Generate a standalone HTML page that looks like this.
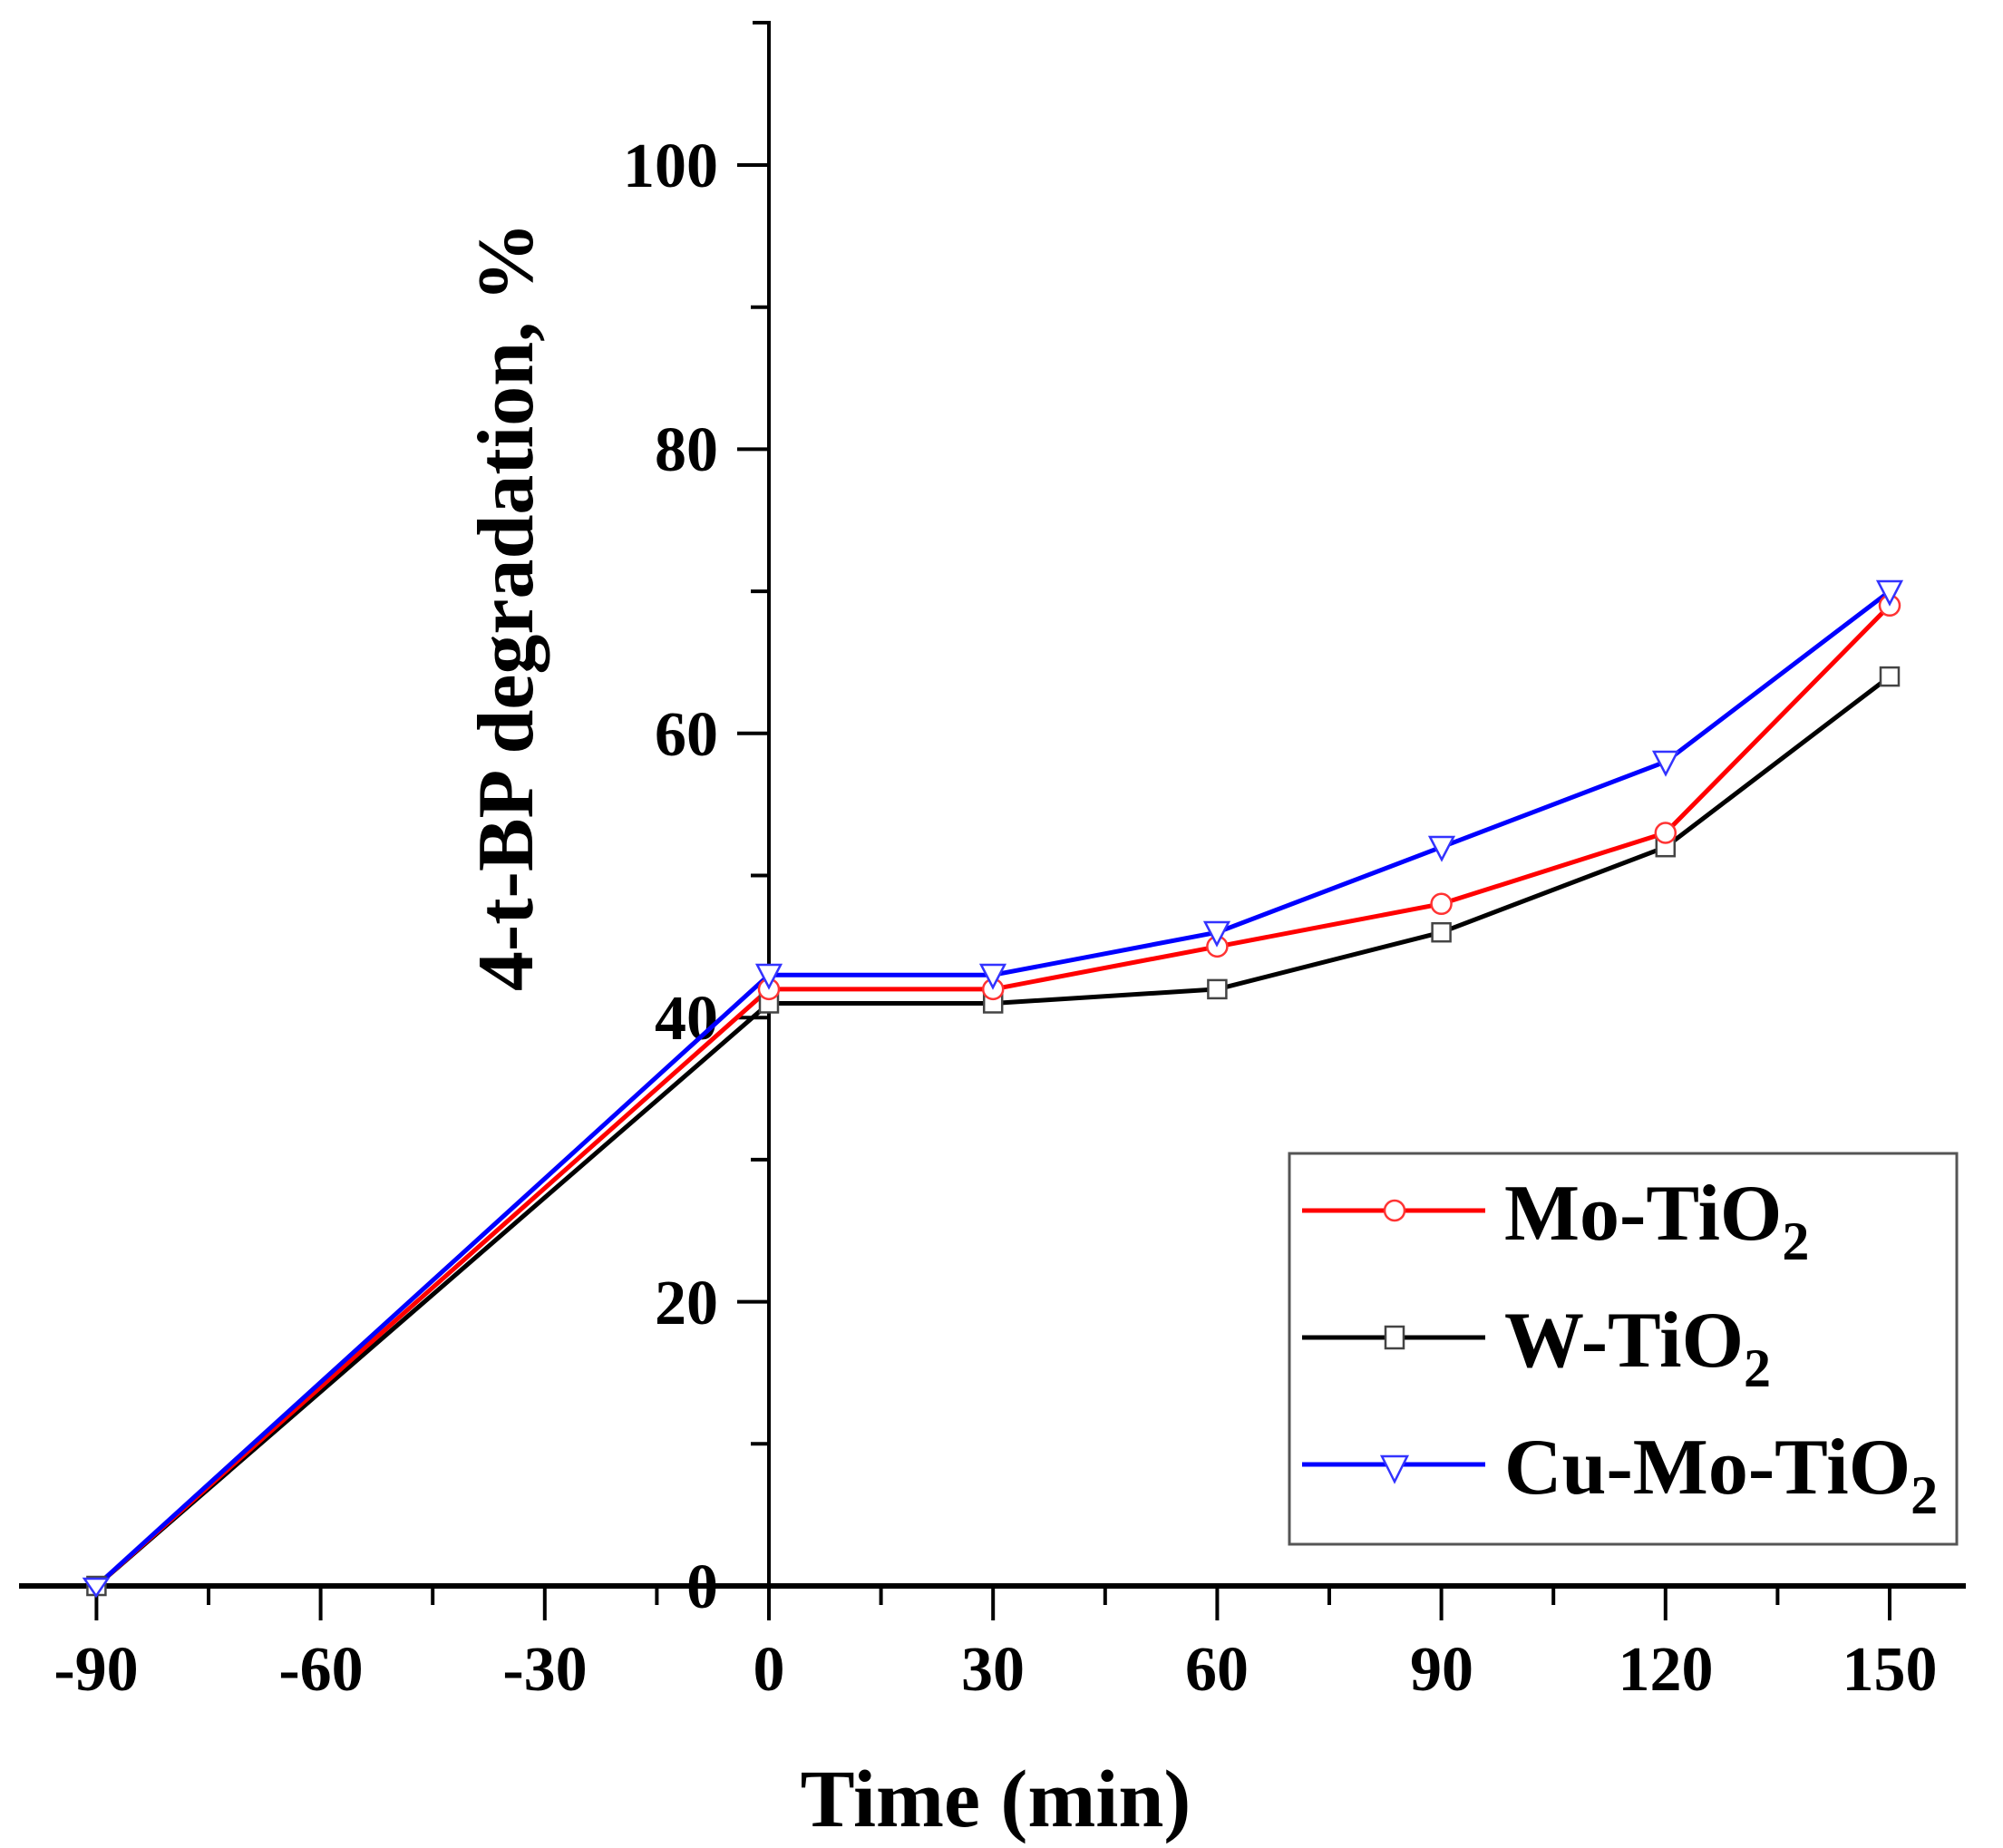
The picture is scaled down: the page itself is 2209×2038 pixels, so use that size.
<!DOCTYPE html>
<html><head><meta charset="utf-8"><style>
html,body{margin:0;padding:0;background:#fff;}
svg{display:block;}
text{font-family:"Liberation Serif",serif;font-weight:bold;fill:#000;}
</style></head><body>
<svg width="2209" height="2038" viewBox="0 0 2209 2038" xmlns="http://www.w3.org/2000/svg">
<rect width="2209" height="2038" fill="#fff"/>
<!-- axes -->
<line x1="21" y1="1749" x2="2168" y2="1749" stroke="#000" stroke-width="6"/>
<line x1="848" y1="25" x2="848" y2="1749" stroke="#000" stroke-width="4"/>
<line x1="830" y1="25" x2="850" y2="25" stroke="#000" stroke-width="4"/>
<!-- y ticks -->
<g stroke="#000" stroke-width="4">
<line x1="813" y1="182" x2="848" y2="182"/>
<line x1="813" y1="495.4" x2="848" y2="495.4"/>
<line x1="813" y1="808.8" x2="848" y2="808.8"/>
<line x1="813" y1="1122.2" x2="848" y2="1122.2"/>
<line x1="813" y1="1435.6" x2="848" y2="1435.6"/>
<line x1="828" y1="338.7" x2="848" y2="338.7"/>
<line x1="828" y1="652.1" x2="848" y2="652.1"/>
<line x1="828" y1="965.5" x2="848" y2="965.5"/>
<line x1="828" y1="1278.9" x2="848" y2="1278.9"/>
<line x1="828" y1="1592.3" x2="848" y2="1592.3"/>
</g>
<!-- x ticks -->
<g stroke="#000" stroke-width="4">
<line x1="106.4" y1="1749" x2="106.4" y2="1787"/>
<line x1="353.6" y1="1749" x2="353.6" y2="1787"/>
<line x1="600.8" y1="1749" x2="600.8" y2="1787"/>
<line x1="848" y1="1749" x2="848" y2="1787"/>
<line x1="1095.2" y1="1749" x2="1095.2" y2="1787"/>
<line x1="1342.4" y1="1749" x2="1342.4" y2="1787"/>
<line x1="1589.6" y1="1749" x2="1589.6" y2="1787"/>
<line x1="1836.8" y1="1749" x2="1836.8" y2="1787"/>
<line x1="2084" y1="1749" x2="2084" y2="1787"/>
<line x1="230" y1="1749" x2="230" y2="1770"/>
<line x1="477.2" y1="1749" x2="477.2" y2="1770"/>
<line x1="724.4" y1="1749" x2="724.4" y2="1770"/>
<line x1="971.6" y1="1749" x2="971.6" y2="1770"/>
<line x1="1218.8" y1="1749" x2="1218.8" y2="1770"/>
<line x1="1466" y1="1749" x2="1466" y2="1770"/>
<line x1="1713.2" y1="1749" x2="1713.2" y2="1770"/>
<line x1="1960.4" y1="1749" x2="1960.4" y2="1770"/>
</g>
<!-- y labels -->
<g font-size="70" text-anchor="end">
<text x="792" y="206">100</text>
<text x="792" y="519">80</text>
<text x="792" y="833">60</text>
<text x="792" y="1146">40</text>
<text x="792" y="1460">20</text>
<text x="792" y="1773">0</text>
</g>
<!-- x labels -->
<g font-size="70" text-anchor="middle">
<text x="106" y="1864">-90</text>
<text x="354" y="1864">-60</text>
<text x="601" y="1864">-30</text>
<text x="848" y="1864">0</text>
<text x="1095" y="1864">30</text>
<text x="1342" y="1864">60</text>
<text x="1590" y="1864">90</text>
<text x="1837" y="1864">120</text>
<text x="2084" y="1864">150</text>
</g>
<text x="1098" y="2014" font-size="90" text-anchor="middle">Time (min)</text>
<text transform="translate(587,669) rotate(-90)" font-size="88" text-anchor="middle">4-t-BP degradation, %</text>
<!-- series -->
<g fill="none" stroke-width="5" stroke-linejoin="round">
<polyline stroke="#000" points="106.4,1749 848,1106.5 1095.2,1106.5 1342.4,1090.9 1589.6,1028.2 1836.8,934.2 2084,746.1"/>
<polyline stroke="#f00" points="106.4,1749 848,1090.9 1095.2,1090.9 1342.4,1043.9 1589.6,996.8 1836.8,918.5 2084,667.8"/>
<polyline stroke="#00f" points="106.4,1749 848,1075.2 1095.2,1075.2 1342.4,1028.2 1589.6,934.2 1836.8,840.1 2084,652.1"/>
</g>
<!-- markers W squares -->
<g fill="#fff" stroke="#444" stroke-width="2.5">
<rect x="96.4" y="1739" width="20" height="20"/>
<rect x="838" y="1096.5" width="20" height="20"/>
<rect x="1085.2" y="1096.5" width="20" height="20"/>
<rect x="1332.4" y="1080.9" width="20" height="20"/>
<rect x="1579.6" y="1018.2" width="20" height="20"/>
<rect x="1826.8" y="924.2" width="20" height="20"/>
<rect x="2074" y="736.1" width="20" height="20"/>
</g>
<g fill="#fff" stroke="#f33" stroke-width="2.5">
<circle cx="848" cy="1090.9" r="11"/>
<circle cx="1095.2" cy="1090.9" r="11"/>
<circle cx="1342.4" cy="1043.9" r="11"/>
<circle cx="1589.6" cy="996.8" r="11"/>
<circle cx="1836.8" cy="918.5" r="11"/>
<circle cx="2084" cy="667.8" r="11"/>
</g>
<g fill="#fff" stroke="#33f" stroke-width="2.5">
<polygon points="93,1741 119,1741 106,1760"/>
<polygon points="835,1064 861,1064 848,1089"/>
<polygon points="1082,1064 1108,1064 1095,1089"/>
<polygon points="1329,1017 1355,1017 1342,1042"/>
<polygon points="1577,923 1603,923 1590,948"/>
<polygon points="1824,829 1850,829 1837,854"/>
<polygon points="2071,641 2097,641 2084,666"/>
</g>
<!-- legend -->
<rect x="1422" y="1272" width="736" height="431" fill="#fff" stroke="#555" stroke-width="3"/>
<line x1="1436" y1="1335" x2="1638" y2="1335" stroke="#f00" stroke-width="5"/>
<circle cx="1538" cy="1335" r="11" fill="#fff" stroke="#f33" stroke-width="2.5"/>
<line x1="1436" y1="1475" x2="1638" y2="1475" stroke="#000" stroke-width="5"/>
<rect x="1528" y="1463" width="20" height="24" fill="#fff" stroke="#444" stroke-width="2.5"/>
<line x1="1436" y1="1615" x2="1638" y2="1615" stroke="#00f" stroke-width="5"/>
<polygon points="1524,1606 1552,1606 1538,1634" fill="#fff" stroke="#33f" stroke-width="2.5"/>
<g font-size="88">
<text x="1659" y="1367">Mo-TiO<tspan font-size="60" dy="22">2</tspan></text>
<text x="1659" y="1507">W-TiO<tspan font-size="60" dy="22">2</tspan></text>
<text x="1659" y="1647">Cu-Mo-TiO<tspan font-size="60" dy="22">2</tspan></text>
</g>
</svg>
</body></html>
